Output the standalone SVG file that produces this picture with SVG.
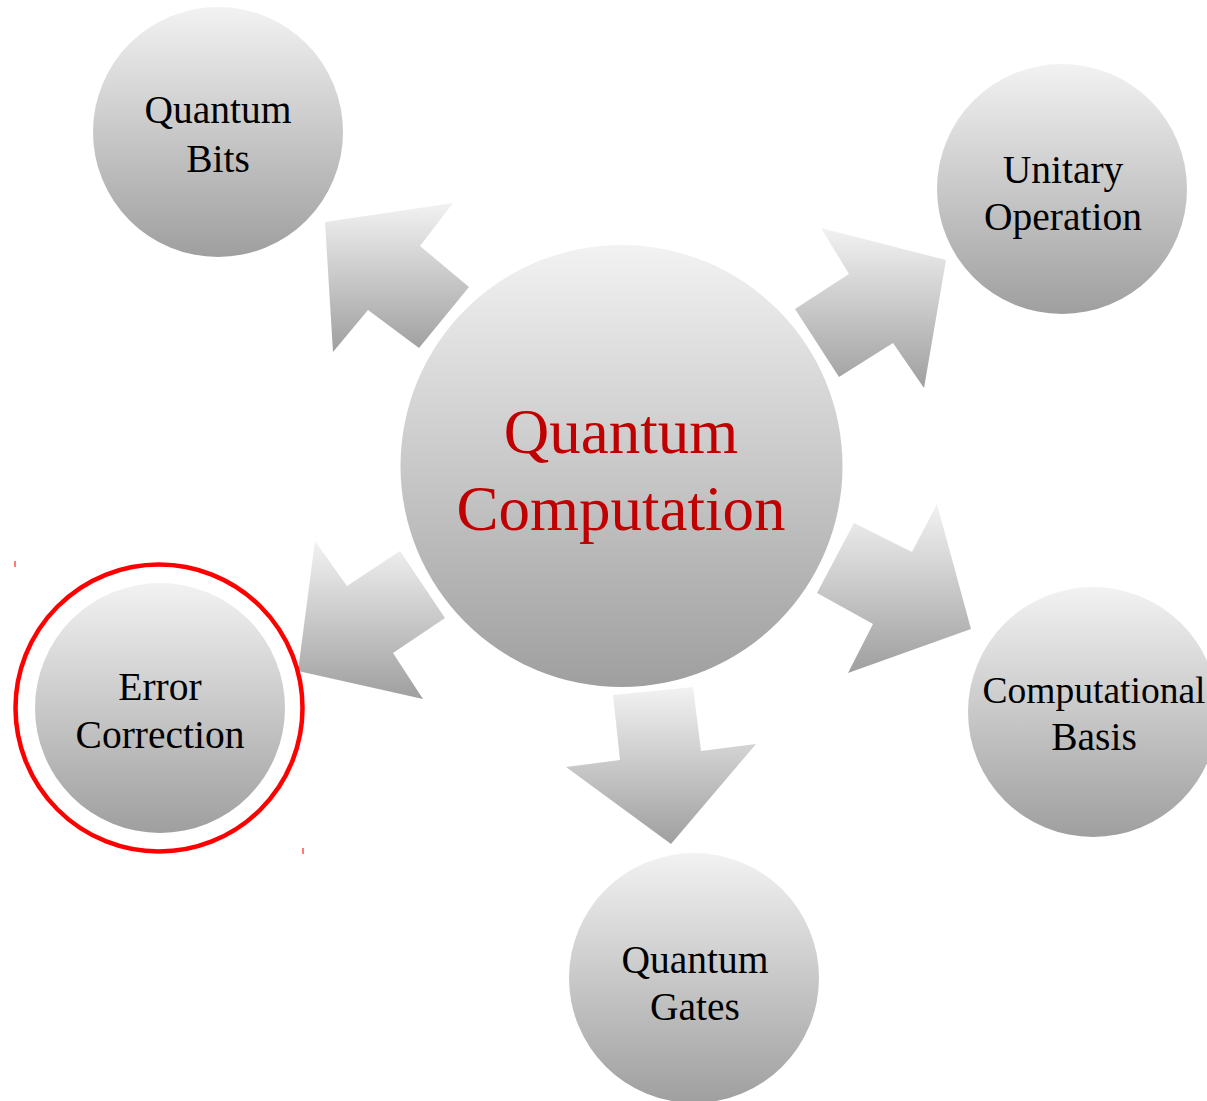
<svg xmlns="http://www.w3.org/2000/svg" width="1207" height="1101" viewBox="0 0 1207 1101">
  <defs>
    <!-- shared vertical silver shading for bubbles and arrows -->
    <linearGradient id="silver" x1="0" y1="0" x2="0" y2="1">
      <stop offset="0" stop-color="#f2f2f2"/>
      <stop offset="1" stop-color="#9f9f9f"/>
    </linearGradient>
  </defs>
  <style>
    .bubble { fill: url(#silver); }
    .arrow { fill: url(#silver); }
    .label { font-family: "Liberation Serif", "Times New Roman", serif; font-size: 39.5px; fill: #000; text-anchor: middle; }
    .title { font-family: "Liberation Serif", "Times New Roman", serif; font-size: 63px; fill: #c00000; text-anchor: middle; }
    .ring { fill: none; stroke: #ff0000; stroke-width: 4.5; }
    .tick { fill: #ff7a7a; }
  </style>

  <rect width="1207" height="1101" fill="#ffffff"/>

  <!-- block arrows radiating from the hub -->
  <g id="connectors">
    <polygon class="arrow" points="325,222 453,203 420,246 469,287 419,348 368,310 333,352"/>
    <polygon class="arrow" points="821,228 946,260 924,388 893,343 839,377 795,309 849,274"/>
    <polygon class="arrow" points="315,541 347,586 400,551 445,618 393,653 423,699 298,671"/>
    <polygon class="arrow" points="937,504 971,629 848,673 873,624 817,593 854,523 912,552"/>
    <polygon class="arrow" points="613,695 693,687 701,751 756,744 671,844 566,767 620,760"/>
  </g>

  <!-- hub -->
  <g id="quantum-computation">
    <circle class="bubble" cx="621.5" cy="466" r="221"/>
    <text class="title" x="621" y="453">Quantum</text>
    <text class="title" x="621" y="530">Computation</text>
  </g>

  <g id="quantum-bits">
    <circle class="bubble" cx="218" cy="132" r="125"/>
    <text class="label" x="218" y="123">Quantum</text>
    <text class="label" x="218" y="172">Bits</text>
  </g>

  <g id="unitary-operation">
    <circle class="bubble" cx="1062" cy="189" r="125"/>
    <text class="label" x="1063" y="183">Unitary</text>
    <text class="label" x="1063" y="230">Operation</text>
  </g>

  <g id="computational-basis">
    <circle class="bubble" cx="1093" cy="712" r="125"/>
    <text class="label" x="1094" y="703" style="font-size:37.5px">Computational</text>
    <text class="label" x="1094" y="750">Basis</text>
  </g>

  <g id="quantum-gates">
    <circle class="bubble" cx="694" cy="978" r="125"/>
    <text class="label" x="695" y="973">Quantum</text>
    <text class="label" x="695" y="1020">Gates</text>
  </g>

  <g id="error-correction">
    <circle class="bubble" cx="160" cy="708" r="125"/>
    <text class="label" x="160" y="700">Error</text>
    <text class="label" x="160" y="748">Correction</text>
    <!-- highlight ring with its corner ticks -->
    <circle class="ring" cx="159" cy="708" r="143.5"/>
    <rect class="tick" x="14" y="561" width="2" height="6"/>
    <rect class="tick" x="302" y="848" width="2" height="6"/>
  </g>
</svg>
